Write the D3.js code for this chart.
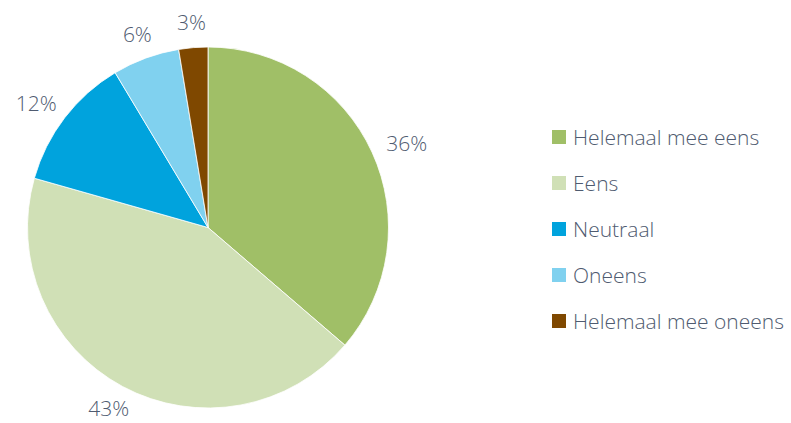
<!DOCTYPE html>
<html>
<head>
<meta charset="utf-8">
<script src="https://cdn.jsdelivr.net/npm/d3@7"></script>
<style>
  body { margin: 0; background: #fff; }
  text { font-family: "Open Sans", sans-serif; font-weight: 300; fill: #4f5b70; }
</style>
</head>
<body>
<div id="pie-chart"></div>
<script>
const categories = ["Helemaal mee eens", "Eens", "Neutraal", "Oneens", "Helemaal mee oneens"];
// shares (labels show them rounded)
const values = [36.3, 43.1, 12.0, 6.0, 2.6];
const colors = ["#a0bf67", "#d0e0b6", "#00a3dd", "#80d1ef", "#7f4800"];

let svg = d3.select("#pie-chart")
    .append("svg")
    .attr("width", 791)
    .attr("height", 423)

const cx = 208, cy = 227.5, radius = 180.5;

let pie = d3.pie().sort(null).value(d => d.value);
let arcs = pie(categories.map((c, i) => ({ name: c, value: values[i] })));

let arc = d3.arc().innerRadius(0).outerRadius(radius);

let g = svg.append("g")
    .attr("transform", "translate(" + cx + "," + cy + ")");

g.selectAll("path")
    .data(arcs)
    .enter()
    .append("path")
    .attr("d", arc)
    .attr("fill", (d, i) => colors[i])
    .attr("stroke", "#fff")
    .attr("stroke-width", 0.8);

// labels outside the end: box edge sits a fixed gap from the rim
const labelR = 200;
g.selectAll("text")
    .data(arcs)
    .enter()
    .append("text")
    .attr("text-anchor", "middle")
    .attr("dy", "0.36em")
    .style("font-size", "21px")
    .text(d => Math.round(d.data.value) + "%")
    .attr("transform", function (d) {
        let a = (d.startAngle + d.endAngle) / 2;
        let box = this.getBBox();
        let x = Math.sin(a) * (labelR + box.width / 2 * Math.abs(Math.sin(a)));
        let y = -Math.cos(a) * (labelR + 6 * Math.abs(Math.cos(a)));
        return "translate(" + x + "," + y + ")";
    });

// legend
let legend = svg.append("g")
    .attr("transform", "translate(552,137)");

let rows = legend.selectAll("g")
    .data(categories)
    .enter()
    .append("g")
    .attr("transform", (d, i) => "translate(0," + (i * 46) + ")");

rows.append("rect")
    .attr("x", 0)
    .attr("y", -7)
    .attr("width", 14)
    .attr("height", 14)
    .attr("fill", (d, i) => colors[i]);

rows.append("text")
    .attr("x", 21)
    .attr("dy", "0.36em")
    .style("font-size", "21px")
    .text(d => d);
</script>
</body>
</html>
